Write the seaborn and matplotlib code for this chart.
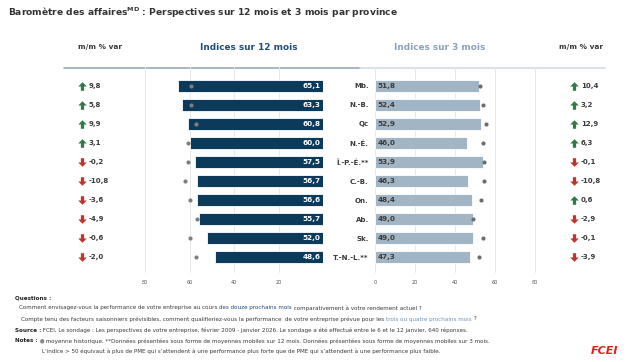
import matplotlib
matplotlib.use('Agg')
import matplotlib.pyplot as plt
import matplotlib.transforms as mtransforms
from matplotlib.path import Path
import seaborn as sns
import pandas as pd
import numpy as np

# data
provinces = ['Mb.', 'N.-B.', 'Qc', 'N.-É.', 'Î.-P.-É.**', 'C.-B.', 'On.', 'Ab.', 'Sk.', 'T.-N.-L.**']
idx12 = [65.1, 63.3, 60.8, 60.0, 57.5, 56.7, 56.6, 55.7, 52.0, 48.6]
idx3 = [51.8, 52.4, 52.9, 46.0, 53.9, 46.3, 48.4, 49.0, 49.0, 47.3]
hist12 = [59.3, 59.3, 57.2, 60.8, 60.8, 61.9, 59.9, 56.6, 59.6, 57.1]
hist3 = [52.5, 54.0, 55.3, 54.0, 54.5, 54.5, 52.8, 49.2, 53.8, 51.8]
var12 = [9.8, 5.8, 9.9, 3.1, -0.2, -10.8, -3.6, -4.9, -0.6, -2.0]
var3 = [10.4, 3.2, 12.9, 6.3, -0.1, -10.8, 0.6, -2.9, -0.1, -3.9]
ticks12 = [80, 60, 40, 20]
ticks3 = [0, 20, 40, 60, 80]

df = pd.DataFrame({'prov': provinces, 'i12': idx12, 'i3': idx3, 'h12': hist12, 'h3': hist3})

DARK = '#0c3a5b'
LIGHT = '#a2b5c4'
DOT = '#7f7f7f'
GREEN = '#2f7a46'
RED = '#c0342b'
TXT = '#3a3a3a'

W, H = 635, 362
sns.set_theme(style='white')
plt.rcParams['font.family'] = ['DejaVu Sans']

fig = plt.figure(figsize=(W / 100, H / 100), dpi=100)

def box(x0, y0, x1, y1):
    return [x0 / W, 1 - y1 / H, (x1 - x0) / W, (y1 - y0) / H]

# overlay in pixel coords for free text
ov = fig.add_axes([0, 0, 1, 1])
ov.set_xlim(0, W); ov.set_ylim(H, 0)
ov.axis('off'); ov.patch.set_visible(False)

axL = fig.add_axes(box(134, 71, 323, 272))
axR = fig.add_axes(box(375, 71, 545, 272))

def fmt(v):
    return f'{v:.1f}'.replace('.', ',')

#left panel, 12 months
sns.barplot(data=df, x='i12', y='prov', ax=axL, color=DARK, width=0.6, orient='h',
            edgecolor='white', linewidth=0.6, saturation=1)
sns.scatterplot(data=df, x='h12', y='prov', ax=axL, color=DOT, s=9, linewidth=0, zorder=5)
axL.set_xlim(85, 0)
for i, v in enumerate(idx12):
    axL.text(1.2, i, fmt(v), color='white', fontsize=5.2, fontweight='bold', ha='right', va='center')

#right panel, 3 months
sns.barplot(data=df, x='i3', y='prov', ax=axR, color=LIGHT, width=0.6, orient='h',
            edgecolor='white', linewidth=0.6, saturation=1)
sns.scatterplot(data=df, x='h3', y='prov', ax=axR, color='#6d6d6d', s=9, linewidth=0, zorder=5)
axR.set_xlim(0, 85)
for i, v in enumerate(idx3):
    axR.text(1.2, i, fmt(v), color=TXT, fontsize=5.2, fontweight='bold', ha='left', va='center')

for ax, tks in [(axL, ticks12), (axR, ticks3)]:
    ax.set_xticks(tks)
    ax.set_xticklabels([str(t) for t in tks])
    ax.tick_params(axis='x', length=0, pad=5.5, labelsize=3.5, labelcolor='#555555')
    ax.set_xlabel(''); ax.set_ylabel('')
    for s in ax.spines.values():
        s.set_visible(False)
    ax.grid(False)
    for t in tks:
        ax.axvline(t, color='#e8e8e8', lw=0.7, zorder=0, ymax=1.02, clip_on=False)
    ax.set_axisbelow(True)

axL.set_yticks([])
axR.tick_params(axis='y', length=0, pad=4.5, labelsize=5, labelcolor=TXT)
for lb in axR.get_yticklabels():
    lb.set_fontweight('bold')

# arrows for m/m change
up = Path([(0, 1), (1, 0), (0.38, 0), (0.38, -1), (-0.38, -1), (-0.38, 0), (-1, 0), (0, 1)],
          [Path.MOVETO] + [Path.LINETO] * 6 + [Path.CLOSEPOLY])
down = Path([(x, -y) for x, y in up.vertices], up.codes)

def var_col(ax, xa, xt, vals):
    tr = mtransforms.blended_transform_factory(ov.transData, ax.transData)
    for i, v in enumerate(vals):
        ax.scatter([xa], [i], transform=tr, marker=up if v > 0 else down, s=38,
                   color=GREEN if v > 0 else RED, linewidth=0, clip_on=False)
        ax.text(xt, i, fmt(v), transform=tr, fontsize=5, fontweight='bold', color=TXT,
                ha='left', va='center', clip_on=False)

var_col(axL, 82, 89, var12)
var_col(axR, 574, 581, var3)

# header
ov.text(8, 13, 'Baromètre des affaires$^{\\mathbf{MD}}$ : Perspectives sur 12 mois et 3 mois par province',
        fontsize=6.6, fontweight='bold', color='#333333', va='center')
ov.text(100, 47, 'm/m % var', fontsize=5.3, fontweight='bold', color=TXT, ha='center', va='center')
ov.text(581, 47, 'm/m % var', fontsize=5.3, fontweight='bold', color=TXT, ha='center', va='center')
ov.text(249, 47, 'Indices sur 12 mois', fontsize=6.4, fontweight='bold', color='#1f4e79', ha='center', va='center')
ov.text(440, 47, 'Indices sur 3 mois', fontsize=6.4, fontweight='bold', color='#8aa3ba', ha='center', va='center')
ov.plot([64, 360], [68, 68], color='#94a9bd', lw=1.2)
ov.plot([360, 605], [68, 68], color='#cfdbe5', lw=1.2)

# footer with mixed colours
rend = fig.canvas.get_renderer()
FS = 4.05

def seg_line(x, y, parts):
    for txt, color, weight in parts:
        t = ov.text(x, y, txt, color=color, fontsize=FS, fontweight=weight, va='center', ha='left')
        x += t.get_window_extent(renderer=rend).width

seg_line(15, 298, [('Questions :', '#222222', 'bold')])
seg_line(19, 308, [('Comment envisagez-vous la performance de votre entreprise au cours ', TXT, 'normal'),
                   ('des douze prochains mois', '#1f4e79', 'normal'),
                   (' comparativement à votre rendement actuel ?', TXT, 'normal')])
seg_line(21, 319, [('Compte tenu des facteurs saisonniers prévisibles, comment qualifieriez-vous la performance  de votre entreprise prévue pour les ', TXT, 'normal'),
                   ('trois ou quatre prochains mois', '#6f94b8', 'normal'),
                   (' ?', TXT, 'normal')])
seg_line(15, 330, [('Source :', '#222222', 'bold'),
                   (' FCEI, Le sondage : Les perspectives de votre entreprise, février 2009 - janvier 2026. Le sondage a été effectué entre le 6 et le 12 janvier, 640 réponses.', TXT, 'normal')])
seg_line(15, 341, [('Notes :', '#222222', 'bold'),
                   (' ●', '#888888', 'normal'),
                   (' moyenne historique. **Données présentées sous forme de moyennes mobiles sur 12 mois. Données présentées sous forme de moyennes mobiles sur 3 mois.', TXT, 'normal')])
seg_line(42, 351, [('L’indice > 50 équivaut à plus de PME qui s’attendent à une performance plus forte que de PME qui s’attendent à une performance plus faible.', TXT, 'normal')])
ov.text(618, 351, 'FCEI', fontsize=8, fontweight='bold', fontstyle='italic', color='#e0201b',
        ha='right', va='center')

fig.savefig('out.png', dpi=100)
